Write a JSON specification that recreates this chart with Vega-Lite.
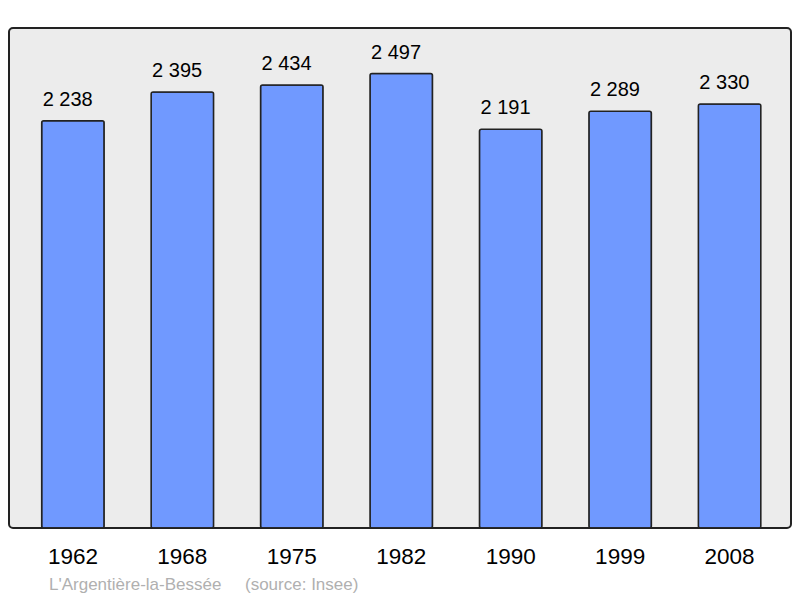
{
  "$schema": "https://vega.github.io/schema/vega-lite/v6.json",
  "width": 782,
  "height": 500,
  "autosize": {"type": "none"},
  "padding": {"left": 9, "top": 28, "right": 9, "bottom": 70},
  "background": "#ffffff",
  "config": {
    "font": "Liberation Sans",
    "locale": {"number": {"decimal": ",", "thousands": " ", "grouping": [3], "currency": ["", " €"]}},
    "view": {"fill": "#ececec", "stroke": "#222222", "strokeWidth": 2, "cornerRadius": 4}
  },
  "title": {
    "text": "L'Argentière-la-Bessée\u00a0\u00a0\u00a0\u00a0\u00a0(source: Insee)",
    "orient": "bottom",
    "anchor": "start",
    "dx": 40,
    "offset": 9,
    "fontSize": 17,
    "fontWeight": "normal",
    "color": "#b0b0b0",
    "font": "Liberation Sans"
  },
  "data": {
    "values": [
      {"year": "1962", "population": 2238},
      {"year": "1968", "population": 2395},
      {"year": "1975", "population": 2434},
      {"year": "1982", "population": 2497},
      {"year": "1990", "population": 2191},
      {"year": "1999", "population": 2289},
      {"year": "2008", "population": 2330}
    ]
  },
  "encoding": {
    "x": {
      "field": "year",
      "type": "nominal",
      "sort": null,
      "scale": {"paddingInner": 0.429, "paddingOuter": 0.287, "align": 0.52},
      "axis": {
        "title": null,
        "labelAngle": 0,
        "ticks": false,
        "domain": false,
        "labelFontSize": 22.5,
        "labelColor": "#000000",
        "labelPadding": 17,
        "labelFont": "Liberation Sans"
      }
    },
    "y": {
      "field": "population",
      "type": "quantitative",
      "scale": {"domain": [0, 2747], "nice": false, "zero": true},
      "axis": null
    }
  },
  "layer": [
    {
      "mark": {"type": "bar", "fill": "#7099ff", "stroke": "#222222", "strokeWidth": 1.5, "cornerRadius": 2}
    },
    {
      "mark": {"type": "text", "align": "left", "baseline": "alphabetic", "dx": 1, "dy": -15, "fontSize": 20, "color": "#000000", "font": "Liberation Sans"},
      "encoding": {
        "x": {"field": "year", "type": "nominal", "sort": null, "bandPosition": 0},
        "text": {"field": "population", "type": "quantitative", "format": ",d"}
      }
    }
  ]
}
